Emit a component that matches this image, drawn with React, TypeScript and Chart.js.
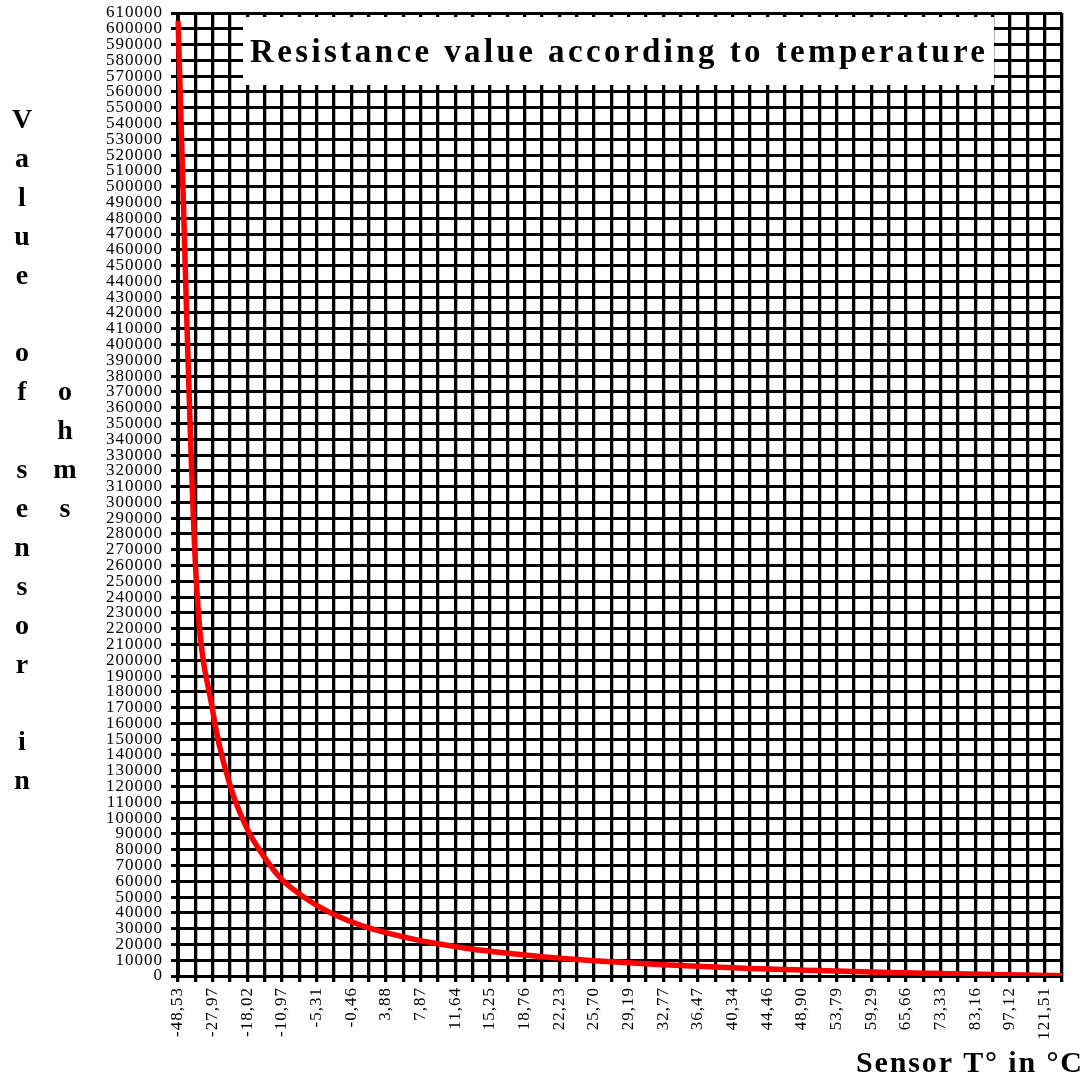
import React, { useEffect, useRef } from 'react';
import { Chart, registerables } from 'chart.js';

Chart.register(...registerables);

// Temperature labels (every second category is labelled)
const tempLabels = [
  '-48,53', '-27,97', '-18,02', '-10,97', '-5,31', '-0,46', '3,88', '7,87', '11,64',
  '15,25', '18,76', '22,23', '25,70', '29,19', '32,77', '36,47', '40,34', '44,46',
  '48,90', '53,79', '59,29', '65,66', '73,33', '83,16', '97,12', '121,51',
];

// Sensor resistance in ohms, one per category
const resistance = [
  605000, 262000, 168000, 121000, 93000, 75000, 61000, 52000, 44800, 39000,
  34400, 30500, 27500, 24800, 22400, 20400, 18600, 17000, 15650, 14400,
  13270, 12250, 11320, 10470, 9690, 8980, 8320, 7710, 7140, 6610,
  6120, 5660, 5230, 4820, 4440, 4080, 3740, 3410, 3110, 2820,
  2550, 2290, 2040, 1800, 1580, 1350, 1150, 940, 757, 560,
  392, 230,
];

const yMin = 0;
const yMax = 610000;
const yStep = 10000;

const chartTitle = 'Resistance value according to temperature';
const xTitle = 'Sensor T\u00b0 in \u00b0C';
const yTitleCol1 = ['V', 'a', 'l', 'u', 'e', '', 'o', 'f', '', 's', 'e', 'n', 's', 'o', 'r', '', 'i', 'n'];
const yTitleCol2 = ['', '', '', '', '', '', '', 'o', 'h', 'm', 's'];

const SERIF = "'Liberation Serif', 'Times New Roman', serif";
const TICK_SPACING = '1px';

function drawSpaced(ctx: CanvasRenderingContext2D, text: string, x: number, y: number, width: number, align: 'left' | 'right') {
  ctx.letterSpacing = '0px';
  const w0 = ctx.measureText(text).width;
  const n = text.length;
  const sp = n > 1 ? (width - w0) / (n - 1) : 0;
  ctx.letterSpacing = sp + 'px';
  ctx.textAlign = 'left';
  const startX = align === 'left' ? x : x - width;
  ctx.fillText(text, startX, y);
}

const decor = {
  id: 'decor',
  beforeUpdate(chart: any) {
    chart.ctx.letterSpacing = TICK_SPACING;
  },
  beforeDraw(chart: any) {
    chart.ctx.letterSpacing = TICK_SPACING;
  },
  beforeDatasetsDraw(chart: any) {
    const ctx = chart.ctx as CanvasRenderingContext2D;
    ctx.save();
    ctx.fillStyle = '#ffffff';
    ctx.fillRect(243, 17, 751, 68);
    ctx.fillStyle = '#000000';
    ctx.font = `bold 33px ${SERIF}`;
    ctx.textBaseline = 'alphabetic';
    drawSpaced(ctx, chartTitle, 250, 62, 735, 'left');
    ctx.restore();
  },
  afterDraw(chart: any) {
    const ctx = chart.ctx as CanvasRenderingContext2D;
    ctx.save();
    ctx.fillStyle = '#000000';
    ctx.textBaseline = 'alphabetic';
    ctx.font = `bold 30px ${SERIF}`;
    drawSpaced(ctx, xTitle, 1082, 1072, 226, 'right');

    ctx.letterSpacing = '0px';
    ctx.font = `bold 28px ${SERIF}`;
    ctx.textAlign = 'center';
    yTitleCol1.forEach((ch, r) => {
      if (ch) ctx.fillText(ch, 22, 128 + 38.9 * r);
    });
    yTitleCol2.forEach((ch, r) => {
      if (ch) ctx.fillText(ch, 65, 128 + 38.9 * r);
    });
    ctx.restore();
    ctx.letterSpacing = TICK_SPACING;
  },
};

export default function App() {
  const canvasRef = useRef<HTMLCanvasElement | null>(null);

  useEffect(() => {
    const canvas = canvasRef.current;
    if (!canvas) return;
    const categories = resistance.map((_, i) => (i % 2 === 0 ? tempLabels[i / 2] ?? '' : ''));
    const tickFont = { family: SERIF, size: 17, weight: 'normal' as const };

    const chart = new Chart(canvas, {
      type: 'line',
      data: {
        labels: categories,
        datasets: [
          {
            data: resistance,
            borderColor: '#ff0000',
            borderWidth: 5.5,
            pointRadius: 0,
            pointHoverRadius: 0,
            fill: false,
            cubicInterpolationMode: 'monotone',
          },
        ],
      },
      options: {
        responsive: false,
        animation: false,
        devicePixelRatio: 1,
        layout: { padding: { left: 0, right: 25, top: 13, bottom: 0 } },
        plugins: {
          legend: { display: false },
          tooltip: { enabled: false },
          title: { display: false },
        },
        scales: {
          x: {
            type: 'category',
            offset: false,
            grid: { color: '#000000', lineWidth: 3.3, tickLength: 6, offset: false },
            border: { color: '#000000', width: 3 },
            ticks: {
              autoSkip: false,
              maxRotation: 90,
              minRotation: 90,
              padding: 5,
              color: '#000000',
              font: tickFont,
              callback: (_v: any, i: number) => categories[i],
            },
            afterFit: (s: any) => {
              s.height = 100;
              s.paddingLeft = 0;
              s.paddingRight = 0;
            },
          },
          y: {
            type: 'linear',
            min: yMin,
            max: yMax,
            grid: { color: '#000000', lineWidth: 3, tickLength: 7 },
            border: { color: '#000000', width: 3 },
            ticks: {
              stepSize: yStep,
              autoSkip: false,
              maxTicksLimit: 1000,
              padding: 8,
              color: '#000000',
              font: tickFont,
              callback: (v: any) => String(v),
            },
            afterFit: (s: any) => {
              s.width = 178;
              s.paddingTop = 0;
              s.paddingBottom = 0;
            },
          },
        },
      },
      plugins: [decor],
    });

    return () => {
      chart.destroy();
    };
  }, []);

  return (
    <div style={{ position: 'absolute', left: 0, top: 0, width: 1087, height: 1076, background: '#ffffff' }}>
      <canvas
        ref={canvasRef}
        width={1087}
        height={1076}
        style={{ display: 'block', width: 1087, height: 1076 }}
      />
    </div>
  );
}
